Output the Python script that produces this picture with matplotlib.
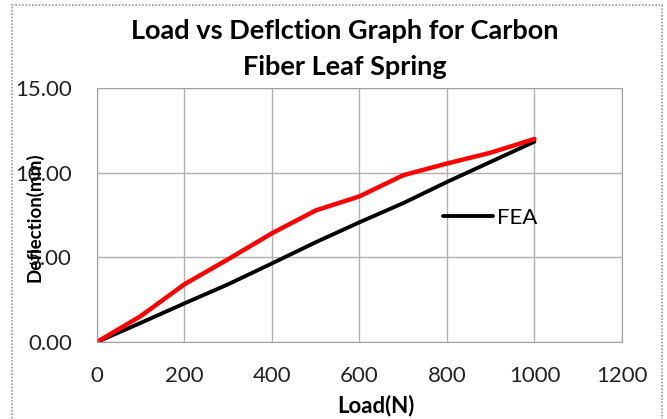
import matplotlib.pyplot as plt
from matplotlib.patches import Rectangle
from matplotlib.ticker import FormatStrFormatter

load = [0, 100, 200, 300, 400, 500, 600, 700, 800, 900, 1000]
fea = [0, 1.13, 2.28, 3.41, 4.64, 5.89, 7.07, 8.20, 9.45, 10.64, 11.83]
experimental = [0, 1.53, 3.41, 4.89, 6.42, 7.77, 8.60, 9.85, 10.54, 11.18, 11.99]

plt.rcParams['font.family'] = ['Lato', 'DejaVu Sans']

fig = plt.figure(figsize=(6.67, 4.19), dpi=100)
ax = fig.add_axes([0.1454, 0.1838, 0.7871, 0.6062])

ax.plot(load, fea, color='black', linewidth=2.8, label='FEA', solid_capstyle='round')
ax.plot(load, experimental, color='#ff0000', linewidth=3.2, solid_capstyle='round')

ax.set_xlim(0, 1200)
ax.set_ylim(0, 15)
ax.set_xticks(range(0, 1201, 200))
ax.set_yticks([0, 5, 10, 15])
ax.yaxis.set_major_formatter(FormatStrFormatter('%.2f'))
ax.grid(True, color='#b0b0b0', linewidth=1.0)
ax.set_axisbelow(True)
for s in ax.spines.values():
    s.set_color('#a0a0a0')
ax.tick_params(length=0, labelsize=16, colors='#222222')
ax.tick_params(axis='x', pad=17)
ax.tick_params(axis='y', pad=18)

fig.text(0.517, 0.925, 'Load vs Deflction Graph for Carbon', ha='center', va='center',
         fontsize=19.5, fontweight='bold')
fig.text(0.517, 0.84, 'Fiber Leaf Spring', ha='center', va='center',
         fontsize=19.5, fontweight='bold')
fig.text(0.052, 0.482, 'Deflection(mm)', rotation=90, ha='center', va='center',
         fontsize=13.5, fontweight='bold')
fig.text(0.563, 0.033, 'Load(N)', ha='center', va='center',
         fontsize=16, fontweight='bold')

ax.legend(loc='center left', bbox_to_anchor=(0.659, 0.488), frameon=False,
          borderpad=0, borderaxespad=0, handlelength=2.25, handletextpad=0.2,
          fontsize=16)

fig.patches.append(Rectangle((12 / 667, -0.05), 650 / 667, 1.038, transform=fig.transFigure,
                             fill=False, edgecolor='#999999', linewidth=1.2,
                             linestyle=(0, (1, 1))))

fig.savefig('out.png', dpi=100)
